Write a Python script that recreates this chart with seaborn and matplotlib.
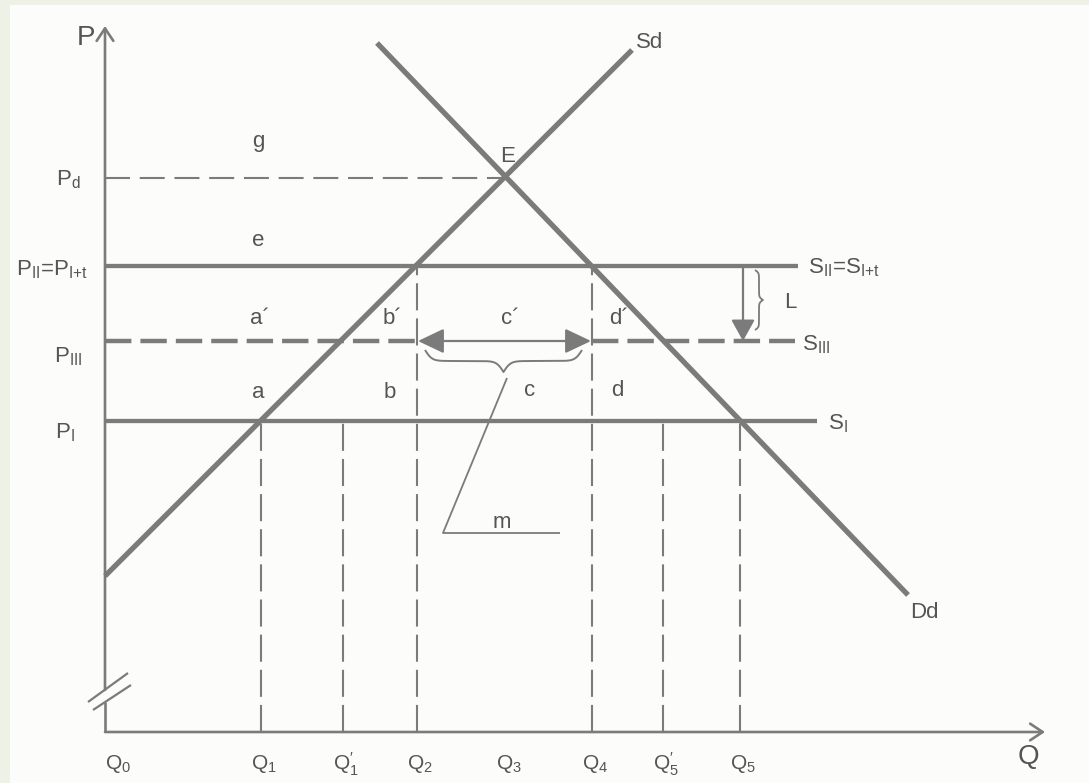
import numpy as np
import matplotlib
matplotlib.use("Agg")
import matplotlib.pyplot as plt
from matplotlib.patches import Rectangle
import seaborn as sns

# quantities on the Q axis (Q0 = origin)
q_names = ["Q$_0$", "Q$_1$", "Q$_1^{\\prime}$", "Q$_2$", "Q$_3$", "Q$_4$", "Q$_5^{\\prime}$", "Q$_5$"]
q_vals = [0.0, 15.6, 23.8, 31.2, 40.1, 48.7, 55.8, 63.5]

# price levels
p_I = 31.1
p_III = 39.1
p_II = 46.6
p_d = 55.4

# supply (Sd) and demand (Dd) end points
supply_q = [0.0, 52.7]
supply_p = [15.6, 68.2]
demand_q = [27.2, 80.3]
demand_p = [68.9, 13.7]

# ends of the horizontal supply lines
end_I, end_II, end_III = 71.2, 69.3, 69.0

# vertical dashed lines: quantity -> height
vlines_q = [15.6, 23.8, 31.2, 48.7, 55.8, 63.5]
vlines_top = [p_I, p_I, p_II, p_II, p_I, p_I]

grey = "#7b7b7b"
txt = "#555555"

sns.set_style("white")
plt.rcParams["font.family"] = ["Liberation Sans", "DejaVu Sans"]
plt.rcParams["mathtext.fontset"] = "custom"
plt.rcParams["mathtext.rm"] = "Liberation Sans"
plt.rcParams["mathtext.it"] = "Liberation Sans"
plt.rcParams["lines.scale_dashes"] = False
plt.rcParams["lines.solid_capstyle"] = "butt"

fig = plt.figure(figsize=(10.89, 7.83), dpi=100, facecolor="#edf1e6")
ax = fig.add_axes([0, 0, 1, 1])
ax.set_facecolor("none")
ax.add_patch(Rectangle((10 / 1089, 0), 1, 1 - 5 / 783, transform=ax.transAxes,
                       facecolor="#fcfcfa", edgecolor="none", zorder=-10))
ax.set_xlim(-10.5, 98.4)
ax.set_ylim(-5.1, 73.2)
ax.axis("off")

# axes with break marks
ax.plot([0, 0], [0, 3.0], color=grey, lw=1.9)
ax.annotate("", xy=(0, 70.6), xytext=(0, 4.2),
            arrowprops=dict(arrowstyle="->,head_length=0.45,head_width=0.3", color=grey, lw=1.9,
                            mutation_scale=20, shrinkA=0, shrinkB=0))
ax.annotate("", xy=(94.0, 0), xytext=(0, 0),
            arrowprops=dict(arrowstyle="->,head_length=0.45,head_width=0.3", color=grey, lw=1.9,
                            mutation_scale=20, shrinkA=0, shrinkB=0))
ax.plot([-1.7, 2.3], [3.0, 5.9], color=grey, lw=1.6)
ax.plot([-1.2, 2.6], [2.2, 4.7], color=grey, lw=1.6)

# supply and demand
sns.lineplot(x=supply_q, y=supply_p, ax=ax, color=grey, lw=3.8)
sns.lineplot(x=demand_q, y=demand_p, ax=ax, color=grey, lw=3.8)

# price lines
sns.lineplot(x=[0, end_II], y=[p_II, p_II], ax=ax, color=grey, lw=3.1)
sns.lineplot(x=[0, end_I], y=[p_I, p_I], ax=ax, color=grey, lw=3.1)
ax.plot([0, q_vals[3]], [p_III, p_III], color=grey, lw=3.2, dashes=(19, 6.5))
ax.plot([q_vals[5], end_III], [p_III, p_III], color=grey, lw=3.2, dashes=(19, 6.5))
ax.plot([0, q_vals[4]], [p_d, p_d], color=grey, lw=1.5, dashes=(18, 7))

# vertical dashed lines
for q, top in zip(vlines_q, vlines_top):
    ax.plot([q, q], [0, top], color=grey, lw=1.5, dashes=(19.5, 5.8))

# c' double arrow
ax.annotate("", xy=(q_vals[5] - 0.1, p_III), xytext=(q_vals[3] + 0.1, p_III),
            arrowprops=dict(arrowstyle="<|-|>,head_length=0.8,head_width=0.38", color=grey, lw=1.6,
                            mutation_scale=20, shrinkA=0, shrinkB=0))
# L arrow
ax.annotate("", xy=(63.8, p_III), xytext=(63.8, p_II),
            arrowprops=dict(arrowstyle="-|>,head_length=0.65,head_width=0.36", color=grey, lw=1.6,
                            mutation_scale=20, shrinkA=0, shrinkB=0))


def brace_shape(n=301):
    t = np.linspace(0, 1, n)
    half = t[: n // 2 + 1]
    beta = 45.0
    yh = 1 / (1 + np.exp(-beta * (half - half[0]))) + 1 / (1 + np.exp(-beta * (half - half[-1])))
    y = np.concatenate((yh, yh[-2::-1])) - 0.5
    return t, y


t, s = brace_shape()
# horizontal brace below the c' arrow
ax.plot(32.0 + t * (47.7 - 32.0), 38.2 - s * 2.2, color=grey, lw=1.4)
# vertical brace for L
ax.plot(65.0 + s * 0.8, 46.2 - t * (46.2 - 40.2), color=grey, lw=1.3)
# pointer to m
ax.plot([40.2, 33.8, 45.5], [35.4, 19.9, 19.9], color=grey, lw=1.3)

# axis labels
ax.text(-1.9, 69.4, "P", fontsize=20, color=txt, ha="center", va="center")
ax.text(92.3, -2.5, "Q", fontsize=20, color=txt, ha="center", va="center")
ax.text(-3.7, 55.2, "P$_{\\mathrm{d}}$", fontsize=16, color=txt, ha="center", va="center")
ax.text(-5.3, 46.2, "P$_{\\mathrm{II}}$=P$_{\\mathrm{I{+}t}}$", fontsize=16, color=txt, ha="center", va="center")
ax.text(-3.7, 37.5, "P$_{\\mathrm{III}}$", fontsize=16, color=txt, ha="center", va="center")
ax.text(-4.0, 29.9, "P$_{\\mathrm{I}}$", fontsize=16, color=txt, ha="center", va="center")

for name, q in zip(q_names, q_vals):
    qx = q + 1.3 if q == 0 else q + 0.3
    ax.text(qx, -3.2, name, fontsize=15, color=txt, ha="center", va="center")

# area letters
areas = {"g": (15.3, 59.0), "e": (15.3, 49.2), "a\u00b4": (15.5, 41.4), "a": (15.3, 34.0),
         "b\u00b4": (28.7, 41.4), "b": (28.5, 34.0), "c\u00b4": (40.5, 41.4), "c": (42.5, 34.2),
         "d\u00b4": (51.4, 41.4), "d": (51.2, 34.2), "m": (39.7, 21.0), "E": (40.3, 57.6),
         "L": (68.5, 43.0)}
for lab, (x, y) in areas.items():
    ax.text(x, y, lab, fontsize=16, color=txt, ha="center", va="center")

ax.text(54.5, 68.9, "Sd", fontsize=16, color=txt, ha="center", va="center")
ax.text(81.9, 12.0, "Dd", fontsize=16, color=txt, ha="center", va="center")
ax.text(70.3, 46.4, "S$_{\\mathrm{II}}$=S$_{\\mathrm{I{+}t}}$", fontsize=16, color=txt, ha="left", va="center")
ax.text(69.7, 38.7, "S$_{\\mathrm{III}}$", fontsize=16, color=txt, ha="left", va="center")
ax.text(72.3, 30.8, "S$_{\\mathrm{I}}$", fontsize=16, color=txt, ha="left", va="center")

fig.savefig("out.png", dpi=100, facecolor=fig.get_facecolor())
